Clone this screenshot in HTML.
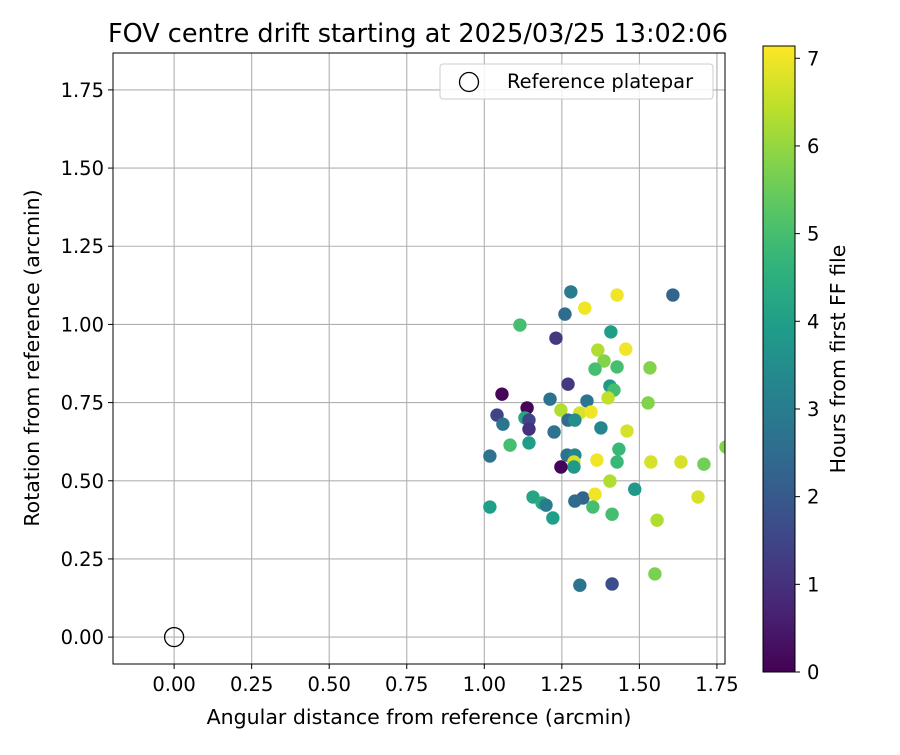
<!DOCTYPE html>
<html><head><meta charset="utf-8"><style>
body{margin:0;background:#fff;}
svg text{font-family:"DejaVu Sans","Liberation Sans",sans-serif;fill:#000;}
</style></head><body>
<svg id="c" width="900" height="750"></svg>
<script>
const xs=[1.279,1.324,1.428,1.608,1.260,1.115,1.231,1.408,1.366,1.456,1.386,1.357,1.428,1.534,1.270,1.405,1.418,1.057,1.212,1.399,1.331,1.138,1.528,1.247,1.041,1.308,1.344,1.270,1.292,1.131,1.144,1.060,1.144,1.225,1.376,1.460,1.083,1.144,1.434,1.018,1.267,1.292,1.289,1.289,1.247,1.363,1.428,1.537,1.634,1.708,1.779,1.405,1.485,1.318,1.357,1.292,1.157,1.186,1.199,1.689,1.018,1.350,1.412,1.221,1.557,1.550,1.308,1.412];
const ys=[1.104,1.052,1.094,1.094,1.033,0.998,0.956,0.976,0.918,0.921,0.883,0.857,0.864,0.861,0.809,0.803,0.790,0.777,0.761,0.765,0.755,0.733,0.749,0.726,0.710,0.717,0.720,0.694,0.694,0.701,0.694,0.681,0.665,0.656,0.669,0.659,0.614,0.621,0.601,0.579,0.582,0.582,0.560,0.544,0.544,0.566,0.560,0.560,0.560,0.553,0.608,0.499,0.473,0.445,0.457,0.435,0.448,0.429,0.422,0.448,0.416,0.416,0.393,0.381,0.374,0.202,0.166,0.170];
const hours=[3,7,7,2.3,2.5,5,1.2,4,6.3,7,5.8,5,5,5.8,1.2,3.8,5,0.1,2.7,6.5,2.8,0.1,5.8,6.3,1.5,6.7,7,2.5,3.5,4.2,1.5,2.8,1,2.7,3.3,6.7,5,4,4.8,2.7,2.7,3.3,6.7,3.8,0.1,7,4.8,6.7,6.7,5.6,5.8,6.3,3.8,2.3,7,2.5,4.2,4.3,3,6.7,4,5,5,4,6.3,5.7,2.7,1.7];
const xTicks=[0,0.25,0.5,0.75,1,1.25,1.5,1.75];
const yTicks=[0,0.25,0.5,0.75,1,1.25,1.5,1.75];
const cTicks=[0,1,2,3,4,5,6,7];
const NS="http://www.w3.org/2000/svg",svg=document.getElementById('c');
const L=113,R=725,T=53,B=664,X0=-0.197,X1=1.776,Y0=-0.086,Y1=1.868;
const sx=v=>L+(v-X0)/(X1-X0)*(R-L), sy=v=>B-(v-Y0)/(Y1-Y0)*(B-T);
const CB={x:763,w:32,t:46,b:672,max:7.14};
const cy=v=>CB.b-v/CB.max*(CB.b-CB.t);
const stops=[[68,1,84],[72,40,120],[62,73,137],[49,104,142],[38,130,142],[31,158,137],[53,183,121],[109,205,89],[180,222,44],[253,231,37]];
function vir(t){t=Math.max(0,Math.min(1,t));const p=t*(stops.length-1),i=Math.min(Math.floor(p),stops.length-2),f=p-i;const c=stops[i].map((a,k)=>Math.round(a+(stops[i+1][k]-a)*f));return `rgb(${c})`;}
function el(tag,a,txt){const e=document.createElementNS(NS,tag);for(const k in a)e.setAttribute(k,a[k]);if(txt!==undefined)e.textContent=txt;svg.appendChild(e);return e;}
let e;
e=el('text',{x:418,y:42,'text-anchor':'middle','font-size':'25.5'},'FOV centre drift starting at 2025/03/25 13:02:06');

xTicks.forEach(v=>{const x=sx(v);
 e=el('line',{x1:x,x2:x,y1:T,y2:B,stroke:'#b0b0b0','stroke-width':1.1});
 el('line',{x1:x,x2:x,y1:B,y2:B+5,stroke:'#000'});
 e=el('text',{x:x,y:B+27,'text-anchor':'middle','font-size':'19.5'},v.toFixed(2));});
yTicks.forEach(v=>{const y=sy(v);
 e=el('line',{x1:L,x2:R,y1:y,y2:y,stroke:'#b0b0b0','stroke-width':1.1});
 el('line',{x1:L-5,x2:L,y1:y,y2:y,stroke:'#000'});
 e=el('text',{x:L-9,y:y+7,'text-anchor':'end','font-size':'19.5'},v.toFixed(2));});
e=el('text',{x:419,y:724,'text-anchor':'middle','font-size':'20.5'},'Angular distance from reference (arcmin)');
e=el('text',{x:39,y:358,'text-anchor':'middle','font-size':'20.5',transform:'rotate(-90 39 358)'},'Rotation from reference (arcmin)');
const g=el('g',{});
const cp=el('clipPath',{id:'cp'});const cr=document.createElementNS(NS,'rect');cr.setAttribute('x',L);cr.setAttribute('y',T);cr.setAttribute('width',R-L);cr.setAttribute('height',B-T);cp.appendChild(cr);
g.setAttribute('clip-path','url(#cp)');
xs.forEach((v,i)=>{const c=document.createElementNS(NS,'circle');c.setAttribute('cx',sx(v));c.setAttribute('cy',sy(ys[i]));c.setAttribute('r',6.7);c.setAttribute('fill',vir(hours[i]/CB.max));
 
 
 g.appendChild(c);});
e=el('circle',{cx:sx(0),cy:sy(0),r:9.5,fill:'none',stroke:'#000','stroke-width':1.3});
e=el('rect',{x:L,y:T,width:R-L,height:B-T,fill:'none',stroke:'#000','stroke-width':1});
e=el('rect',{x:440,y:64,width:273,height:35,rx:3,fill:'#fff','fill-opacity':0.85,stroke:'#ccc'});
el('circle',{cx:469,cy:82,r:9.5,fill:'none',stroke:'#000','stroke-width':1.3});
e=el('text',{x:507,y:88,'font-size':'19.5'},'Reference platepar');
const defs=el('defs',{});const lgd=document.createElementNS(NS,'linearGradient');lgd.setAttribute('id','vg');lgd.setAttribute('x1',0);lgd.setAttribute('y1',1);lgd.setAttribute('x2',0);lgd.setAttribute('y2',0);defs.appendChild(lgd);
for(let k=0;k<=20;k++){const s=document.createElementNS(NS,'stop');s.setAttribute('offset',k/20);s.setAttribute('stop-color',vir(k/20));lgd.appendChild(s);}
e=el('rect',{x:CB.x,y:CB.t,width:CB.w,height:CB.b-CB.t,fill:'url(#vg)',stroke:'#000','stroke-width':1});
cTicks.forEach(v=>{const y=cy(v);el('line',{x1:CB.x+CB.w,x2:CB.x+CB.w+5,y1:y,y2:y,stroke:'#000'});
 e=el('text',{x:CB.x+CB.w+12,y:y+7,'font-size':'19.5'},String(v));});
e=el('text',{x:845,y:359,'text-anchor':'middle','font-size':'20.5',transform:'rotate(-90 845 359)'},'Hours from first FF file');
</script>
</body></html>
